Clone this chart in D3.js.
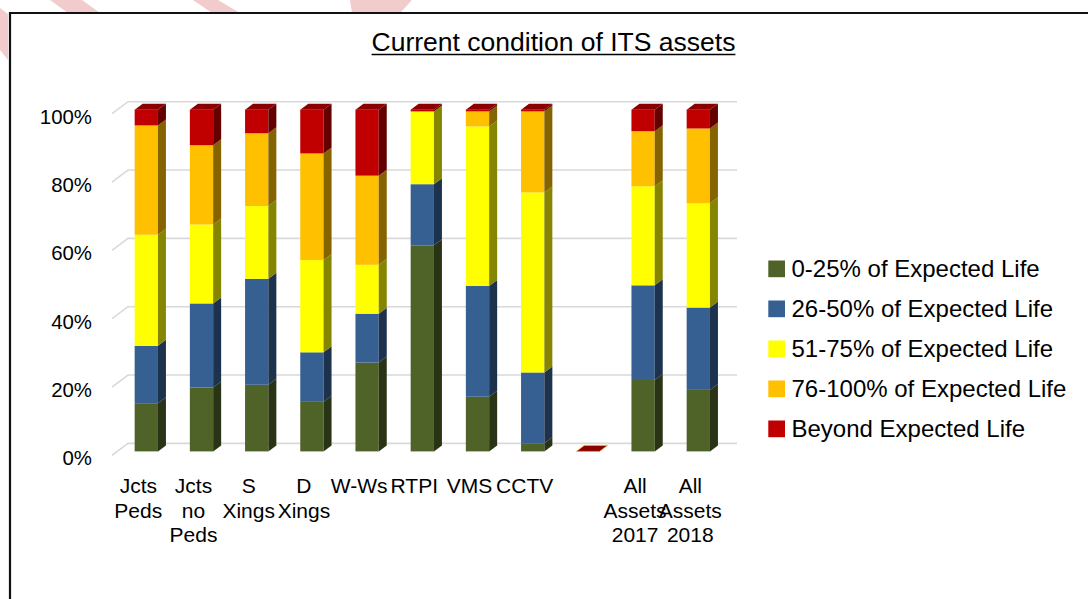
<!DOCTYPE html>
<html>
<head>
<meta charset="utf-8">
<script src="https://cdn.jsdelivr.net/npm/d3@7"></script>
<style>
  html, body { margin: 0; padding: 0; background: #fff; }
  svg { display: block; font-family: "Liberation Sans", Arial, sans-serif; }
</style>
</head>
<body>
<svg id="chart" width="1088" height="599"></svg>
<script>
// ---- data ----
const categories = ["Jcts Peds", "Jcts no Peds", "S Xings", "D Xings", "W-Ws", "RTPI", "VMS", "CCTV", "", "All Assets 2017", "All Assets 2018"];
const seriesNames = ["0-25% of Expected Life", "26-50% of Expected Life", "51-75% of Expected Life", "76-100% of Expected Life", "Beyond Expected Life"];
const life0_25   = [14.1, 18.7, 19.5, 14.5, 26.0, 60.3, 16.0,  2.4, 0, 20.9, 18.0];
const life26_50  = [16.8, 24.6, 31.0, 14.5, 14.3, 17.9, 32.4, 20.7, 0, 27.7, 24.1];
const life51_75  = [32.5, 23.1, 21.3, 27.0, 14.3, 21.3, 46.7, 52.7, 0, 29.0, 30.5];
const life76_100 = [32.0, 23.2, 21.3, 31.2, 26.1,  0.0,  4.4, 23.7, 0, 16.1, 21.9];
const beyondLife = [ 4.6, 10.4,  6.9, 12.8, 19.3,  0.5,  0.5,  0.5, 0,  6.3,  5.5];
const yTicks = [0, 20, 40, 60, 80, 100];
const colors = ["#4F6228", "#376092", "#FFFF00", "#FFC000", "#C00000"];
const title = "Current condition of ITS assets";

const series = [life0_25, life26_50, life51_75, life76_100, beyondLife];

// ---- helpers ----
const svg = d3.select("#chart");
function shade(c, f) { const r = d3.rgb(c); return d3.rgb(r.r * f, r.g * f, r.b * f).formatHex(); }

// watermark remnants outside the frame
const wm = svg.append("g").attr("fill", "#f2cccc");
[[[50,0],[82,0],[100,13],[68,13]], [[193,0],[218,0],[240,13],[212,13]], [[350,0],[412,0],[400,13],[352,13]], [[0,8],[8,14],[8,60],[0,50]]].forEach(p => {
  wm.append("polygon").attr("points", p.map(d => d.join(",")).join(" "));
});

// frame
svg.append("path").attr("d", "M10,599 L10,13 L1088,13").attr("fill", "none").attr("stroke", "#111").attr("stroke-width", 2.2);

// scales
const x = d3.scaleBand().domain(d3.range(categories.length)).range([118.7, 725.9]).paddingInner(0.578).paddingOuter(0.289);
const yB = d3.scaleLinear().domain([0, 100]).range([443.4, 101.7]);   // back wall
const frontDy = 8;     // bar front offset from back wall
const depthX = 8, depthY = 6; // bar depth
const wallX0 = 112, wallX1 = 128, wallDy = 12;

// gridlines (back wall + left wall)
const grid = svg.append("g").attr("stroke", "#d9d9d9").attr("stroke-width", 1.6).attr("fill", "none");
yTicks.forEach(t => {
  grid.append("path").attr("d", `M${wallX0},${yB(t) + wallDy} L${wallX1},${yB(t)} L737,${yB(t)}`);
});

// y axis labels
const yAxisG = svg.append("g").attr("transform", `translate(92,15)`)
  .call(d3.axisLeft(yB).tickValues(yTicks).tickFormat(d => d + "%").tickSize(0).tickPadding(0));
yAxisG.select(".domain").remove();
yAxisG.selectAll("text").attr("font-size", 20.4).attr("font-family", "'Liberation Sans', Arial, sans-serif").attr("fill", "#000");

// bars
const stack = d3.stack().keys(d3.range(5)).value((d, k) => series[k][d]);
const stacked = stack(d3.range(categories.length));
const barsG = svg.append("g");
categories.forEach((cat, i) => {
  const x0 = x(i), x1 = x(i) + x.bandwidth();
  const total = d3.sum(series, s => s[i]);
  const g = barsG.append("g");
  let topIdx = -1;
  for (let k = 0; k < 5; k++) if (series[k][i] > 0) topIdx = k;
  for (let k = 0; k < 5; k++) {
    const v0 = stacked[k][i][0], v1 = stacked[k][i][1];
    if (v1 - v0 <= 0) continue;
    const yb = yB(v0) + frontDy, yt = yB(v1) + frontDy;
    g.append("rect").attr("x", x0).attr("y", yt).attr("width", x1 - x0).attr("height", yb - yt).attr("fill", colors[k]);
    g.append("polygon").attr("points", `${x1},${yt} ${x1 + depthX},${yt - depthY} ${x1 + depthX},${yb - depthY} ${x1},${yb}`)
      .attr("fill", shade(colors[k], 0.52));
  }
  if (topIdx >= 0) {
    const yt = yB(total) + frontDy;
    g.append("polygon").attr("points", `${x0},${yt} ${x1},${yt} ${x1 + depthX},${yt - depthY} ${x0 + depthX},${yt - depthY}`)
      .attr("fill", shade(colors[topIdx], 0.72));
  } else {
    const yt = yB(0) + frontDy;
    g.append("polygon").attr("points", `${x0},${yt} ${x1},${yt} ${x1 + depthX},${yt - depthY} ${x0 + depthX},${yt - depthY}`)
      .attr("fill", shade(colors[4], 0.72)).attr("stroke", colors[3]).attr("stroke-width", 0.6);
  }
});

// x labels
const xl = svg.append("g").attr("font-size", 21).attr("text-anchor", "middle").attr("fill", "#000");
categories.forEach((cat, i) => {
  if (!cat) return;
  const cx = x(i) + x.bandwidth() / 2 - 8;
  const t = xl.append("text").attr("x", cx).attr("y", 493);
  cat.split(" ").forEach((w, j) => {
    t.append("tspan").attr("x", cx).attr("y", 493 + j * 24.7).text(w);
  });
});

// title
const tt = svg.append("text").attr("x", 553.5).attr("y", 51).attr("text-anchor", "middle").attr("font-size", 26.5).attr("fill", "#000").text(title);
const tw = tt.node().getComputedTextLength();
svg.append("line").attr("x1", 553.5 - tw / 2).attr("x2", 553.5 + tw / 2).attr("y1", 54.5).attr("y2", 54.5).attr("stroke", "#000").attr("stroke-width", 1.5);

// legend
const lg = svg.append("g");
seriesNames.forEach((n, k) => {
  const cy = 268.8 + k * 40;
  lg.append("rect").attr("x", 768.3).attr("y", cy - 8.3).attr("width", 16.7).attr("height", 16.7).attr("fill", colors[k]);
  lg.append("text").attr("x", 791.5).attr("y", cy).attr("dy", "0.35em").attr("font-size", 24).attr("fill", "#000").text(n);
});
</script>
</body>
</html>
